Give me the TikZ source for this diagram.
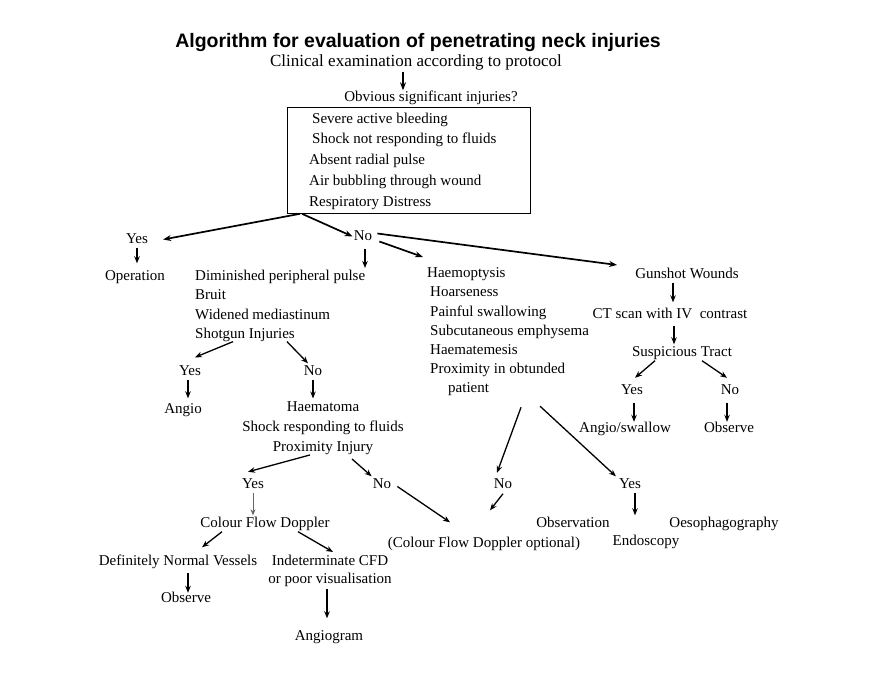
\documentclass[tikz,border=0pt]{standalone}
\usepackage{fontspec}
\setmainfont{Liberation Serif}
\newfontfamily\titlefont{Liberation Sans}
\usetikzlibrary{arrows.meta}
\begin{document}
\begin{tikzpicture}[x=1pt,y=-1pt,
  lbl/.style={font=\fontsize{15}{19}\selectfont, inner sep=1pt, text height=10.5pt, text depth=3.5pt, anchor=base},
  blk/.style={font=\fontsize{15}{19.2}\selectfont, inner sep=0pt},
  arr/.style={line width=1.3pt, -{Stealth[length=7pt,width=5.5pt]}},
  thickarr/.style={line width=1.7pt, -{Stealth[length=8pt,width=6pt]}},
  thinarr/.style={line width=0.7pt, draw=black!60, -{Stealth[length=6pt,width=5pt]}}
]
\useasboundingbox[fill=white] (0,0) rectangle (883,674);

% title and top
\node[anchor=base, inner sep=0pt, font=\titlefont\bfseries\fontsize{19.5}{22}\selectfont] (title) at (418,48) {Algorithm for evaluation of penetrating neck injuries};
\node[lbl, font=\fontsize{17}{20}\selectfont] (clin) at (416,67) {Clinical examination according to protocol};
\node[lbl] (obv) at (431,102) {Obvious significant injuries?};
\node[draw, line width=0.8pt, minimum width=243pt, minimum height=106pt, inner sep=0pt, anchor=north west] (box) at (287,107) {};
\node[blk, font=\fontsize{15}{20.75}\selectfont, align=left, anchor=north west] (boxtxt) at (309,112.5)
  {\hspace*{3pt}Severe active bleeding\\ \hspace*{3pt}Shock not responding to fluids\\ Absent radial pulse\\ Air bubbling through wound\\ Respiratory Distress};

\draw[thickarr] ([xshift=-13pt]clin.south) -- ([xshift=-28pt]obv.north);

% first split
\node[lbl] (yes1) at (137,243) {Yes};
\node[lbl] (no1) at (363,240) {No};
\draw[thickarr] ([xshift=13pt]box.south west) -- ([xshift=14pt]yes1.east);
\draw[thickarr] ([xshift=15pt]box.south west) -- (no1.west);

\node[lbl] (oper) at (135,280) {Operation};
\draw[arr] (yes1.south) -- ([yshift=5pt]yes1.south |- oper.north);

% diminished branch
\node[blk, align=left, anchor=north west] (dim) at (195,270)
  {Diminished peripheral pulse\\ Bruit\\ Widened mediastinum\\ Shotgun Injuries};
\draw[arr] ([xshift=2pt,yshift=-4pt]no1.south) -- ([xshift=2pt,yshift=2pt]no1.south |- dim.north);

% haemoptysis branch
\node[blk, align=left, anchor=north west] (hmp) at (427,267.5)
  {Haemoptysis\\ \hspace*{3pt}Hoarseness\\ \hspace*{3pt}Painful swallowing\\ \hspace*{3pt}Subcutaneous emphysema\\ \hspace*{3pt}Haematemesis\\ \hspace*{3pt}Proximity in obtunded\\ \hspace*{21pt}patient};
\draw[thickarr] ([xshift=6pt,yshift=-5pt]no1.east) -- ([xshift=-4pt,yshift=10.5pt]hmp.north west);

% gunshot branch
\node[lbl] (gun) at (687,278) {Gunshot Wounds};
\draw[thickarr] ([xshift=4pt,yshift=3pt]no1.east) -- ([xshift=-17pt,yshift=9.5pt]gun.west);

% diminished sub-tree
\node[lbl] (yes2) at (190,375) {Yes};
\node[lbl] (no2) at (313,375) {No};
\draw[arr] ([xshift=38pt]dim.south west) -- ([xshift=5pt,yshift=6pt]yes2.north);
\draw[arr] ([xshift=92pt]dim.south west) -- ([xshift=-5pt]no2.north);
\node[lbl] (angio) at (183,413) {Angio};
\draw[arr] ([xshift=-2pt]yes2.south) -- ([xshift=-2pt,yshift=3pt]yes2.south |- angio.north);

\node[blk, align=center, font=\fontsize{15}{20}\selectfont, anchor=north] (hma) at (323,401.5)
  {Haematoma\\ Shock responding to fluids\\ Proximity Injury};
\draw[arr] (no2.south) -- ([yshift=3pt]no2.south |- hma.north);

\node[lbl] (yes3) at (253,488) {Yes};
\node[lbl] (no3) at (382,488) {No};
\draw[arr] ([xshift=-13pt]hma.south) -- ([xshift=-5pt,yshift=4.5pt]yes3.north);
\draw[arr] ([xshift=29pt,yshift=-4pt]hma.south) -- (no3.north west);

\node[lbl] (cfd) at (265,527) {Colour Flow Doppler};
\draw[thinarr] (yes3.south) -- (yes3.south |- cfd.north);

\node[lbl] (cfdopt) at (484,547) {(Colour Flow Doppler optional)};
\draw[arr] ([xshift=5pt,yshift=-2pt]no3.east) -- ([xshift=-34pt,yshift=13pt]cfdopt.north);

\node[lbl] (def) at (178,565) {Definitely Normal Vessels};
\node[blk, align=center, anchor=north, font=\fontsize{15}{18}\selectfont] (ind) at (330,554.5)
  {Indeterminate CFD\\ or poor visualisation};
\draw[arr] ([xshift=-43pt]cfd.south) -- ([xshift=24pt,yshift=6pt]def.north);
\draw[arr] ([xshift=33pt]cfd.south) -- ([xshift=3pt,yshift=2.5pt]ind.north);

\node[lbl] (obs1) at (186,602) {Observe};
\draw[arr] ([xshift=10pt,yshift=-3pt]def.south) -- ([xshift=10pt,yshift=-2.5pt]def.south |- obs1.north);

\node[lbl] (angiog) at (329,640) {Angiogram};
\draw[arr] ([xshift=-3pt,yshift=-2pt]ind.south) -- ([xshift=-3pt,yshift=10pt]ind.south |- angiog.north);

% haemoptysis sub-tree
\node[lbl] (no4) at (503,488) {No};
\node[lbl] (yes4) at (630,488) {Yes};
\draw[arr] ([xshift=13pt,yshift=-11pt]hmp.south) -- ([xshift=-6pt,yshift=3.5pt]no4.north);
\draw[arr] ([xshift=32pt,yshift=-10pt]hmp.south) -- ([xshift=-2pt]yes4.north west);
\draw[arr] ([yshift=-1pt]no4.south) -- ([xshift=6pt,yshift=25pt]cfdopt.north);

\node[lbl] (obsv) at (573,527) {Observation};
\node[lbl] (oeso) at (724,527) {Oesophagography};
\node[lbl] (endo) at (646,545) {Endoscopy};
\draw[arr] ([xshift=5pt]yes4.south) -- ([xshift=5pt]yes4.south |- obsv.north);

% gunshot sub-tree
\node[lbl] (ct) at (670,318) {CT scan with IV\ \ contrast};
\draw[arr] ([xshift=-14pt]gun.south) -- ([xshift=-14pt,yshift=4pt]gun.south |- ct.north);
\node[lbl] (susp) at (682,356) {Suspicious Tract};
\draw[arr] ([xshift=4pt,yshift=-3pt]ct.south) -- ([xshift=4pt]ct.south |- susp.north);
\node[lbl] (yes5) at (632,394) {Yes};
\node[lbl] (no5) at (730,394) {No};
\draw[arr] ([xshift=-27pt]susp.south) -- ([xshift=3pt,yshift=4.5pt]yes5.north);
\draw[arr] ([xshift=20pt]susp.south) -- ([xshift=-3pt,yshift=4.5pt]no5.north);
\node[lbl] (angsw) at (625,432) {Angio/swallow};
\node[lbl] (obs2) at (729,432) {Observe};
\draw[arr] ([xshift=2pt,yshift=-4pt]yes5.south) -- ([xshift=2pt,yshift=-1.5pt]yes5.south |- angsw.north);
\draw[arr] ([xshift=-3pt,yshift=-4pt]no5.south) -- ([xshift=-3pt,yshift=-1.5pt]no5.south |- obs2.north);
\end{tikzpicture}
\end{document}
